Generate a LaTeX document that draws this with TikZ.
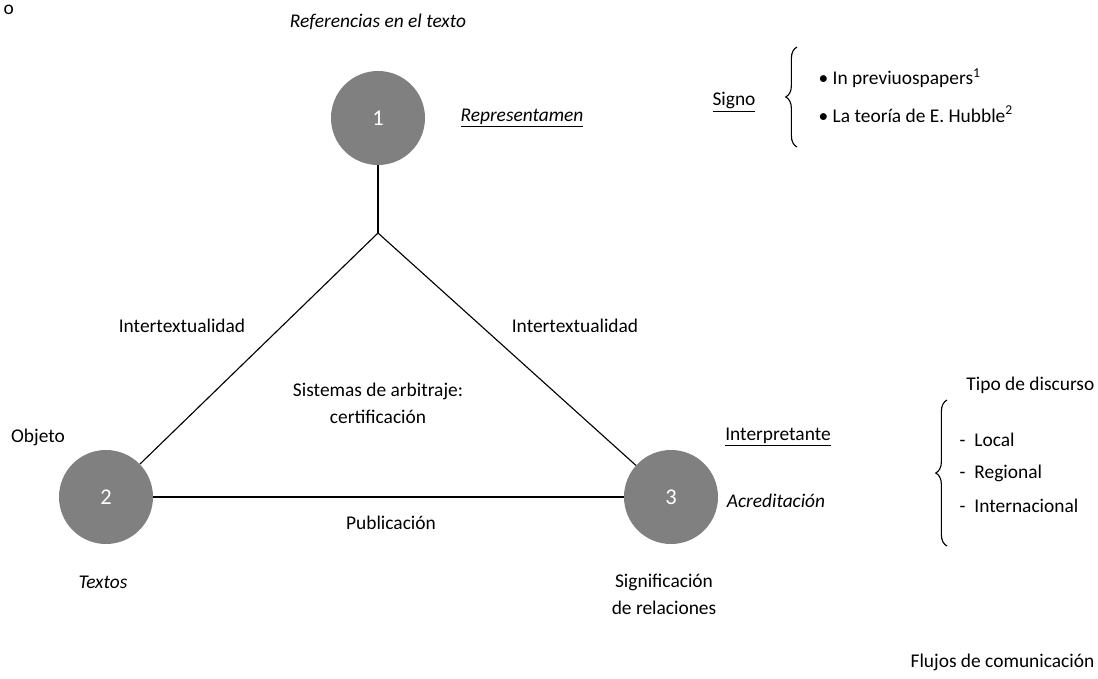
\documentclass[tikz,border=0pt]{standalone}
\usepackage{fontspec}
\setmainfont{Carlito}
\usetikzlibrary{decorations.pathreplacing,positioning}

\definecolor{nodegray}{HTML}{808080}

\tikzset{
    vertex/.style={circle, fill=nodegray, minimum size=2.35cm, inner sep=0pt, text=white, font=\fontsize{16}{18}\selectfont},
    lbl/.style={font=\fontsize{13.8}{16}\selectfont, inner sep=1pt},
    itlbl/.style={lbl, font=\fontsize{13.8}{16}\selectfont\itshape},
    edge/.style={line width=0.8pt},
}

\begin{document}
\begin{tikzpicture}[x=0.025cm, y=-0.025cm]
    \useasboundingbox (0,0) rectangle (1098,678);

    % the three nodes of the triangle
    \node[vertex] (n1) at (378,118) {1};
    \node[vertex] (n2) at (106,497) {2};
    \node[vertex] (n3) at (671,497) {3};
    \coordinate (apex) at (378,233);

    \draw[edge] (n1) -- (apex);
    \draw[edge] (apex) -- (n2);
    \draw[edge] (apex) -- (n3);
    \draw[edge] (n2) -- (n3);

    % labels round the triangle
    \node[lbl, anchor=north west] (cut) at (2,3) {o};
    \node[itlbl] (refs) at (378,22) {Referencias en el texto};
    \node[itlbl] (repr) at (522,118) {\underline{Representamen}};
    \node[lbl] (intl) at (182,326) {Intertextualidad};
    \node[lbl] (intr) at (575,326) {Intertextualidad};
    \node[lbl, align=center] (sist) at (378,403) {Sistemas de arbitraje:\\[3pt]certificación};
    \node[lbl] (obj) at (38,437) {Objeto};
    \node[lbl] (interp) at (778,437) {\underline{Interpretante}};
    \node[itlbl] (acred) at (776,501) {Acreditación};
    \node[lbl] (pub) at (391,523) {Publicación};
    \node[itlbl] (txt) at (103,582) {Textos};
    \node[lbl, align=center] (signif) at (664,594) {Significación\\[3pt]de relaciones};

    % signo
    \node[lbl] (signo) at (734,102) {\underline{Signo}};
    \coordinate (b1top) at (797,47);
    \coordinate (b1bot) at (797,147);
    \draw[edge, decorate, decoration={brace, amplitude=8pt, aspect=0.5}] (b1bot) -- (b1top);
    \node[lbl, anchor=west] (prev) at (817,78) {• In previuospapers\textsuperscript{1}};
    \node[lbl, anchor=west] (hub) at (817,114) {• La teoría de E. Hubble\textsuperscript{2}};

    % tipo de discurso
    \node[lbl, anchor=east] (tipo) at (1096,385) {Tipo de discurso};
    \coordinate (b2top) at (947,400);
    \coordinate (b2bot) at (947,546);
    \draw[edge, decorate, decoration={brace, amplitude=8pt, aspect=0.5}] (b2bot) -- (b2top);
    \node[lbl, anchor=west] (loc) at (958,440) {-\ \ Local};
    \node[lbl, anchor=west] (reg) at (958,473) {-\ \ Regional};
    \node[lbl, anchor=west] (inter) at (958,506) {-\ \ Internacional};

    \node[lbl, anchor=east] (flujos) at (1096,662) {Flujos de comunicación};
\end{tikzpicture}
\end{document}
